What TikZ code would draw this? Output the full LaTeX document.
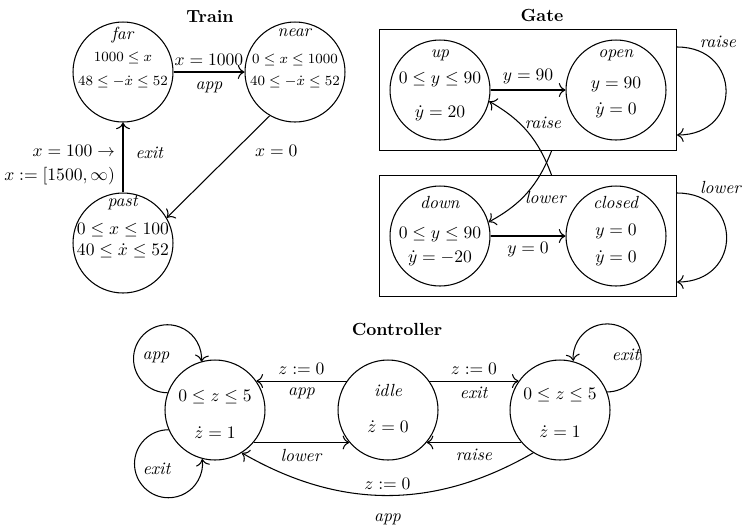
\documentclass[tikz,border=0pt]{standalone}
\usetikzlibrary{positioning,calc,fit,arrows.meta}

\begin{document}
\begin{tikzpicture}[x=0.02cm,y=0.02cm,semithick,>={To[scale=1.3]},
  state/.style={draw,circle,minimum size=2cm,inner sep=0pt},
  grp/.style={draw,rectangle,inner sep=0.2cm},
  ttl/.style={font=\bfseries},
  small/.style={font=\fontsize{8.5}{10}\selectfont}]
\useasboundingbox (0,0) rectangle (746,-525);

% Train
\node[ttl] (train) at (210,-17) {Train};
\node[state] (far) at (123,-72) {};
\node (far-n) at ($(far)+(0,37)$) {\textit{far}};
\node[small] (far-a) at ($(far)+(0,14)$) {$1000 \le x$};
\node[small] (far-b) at ($(far)+(0,-10)$) {$48 \le -\dot{x} \le 52$};
\node[state] (near) at (295,-72) {};
\node (near-n) at ($(near)+(0,39)$) {\textit{near}};
\node[small] (near-a) at ($(near)+(0,12)$) {$0 \le x \le 1000$};
\node[small] (near-b) at ($(near)+(0,-10)$) {$40 \le -\dot{x} \le 52$};
\node[state] (past) at (123,-243) {};
\node (past-n) at ($(past)+(0,40)$) {\textit{past}};
\node (past-a) at ($(past)+(0,13)$) {$0 \le x \le 100$};
\node (past-b) at ($(past)+(0,-8)$) {$40 \le \dot{x} \le 52$};
\draw[->] (far.east) -- node[above] (l-app-t) {$x = 1000$} node[below=2pt] (l-app-b) {\textit{app}} (near.west);
\draw[->] (near.240) -- node[pos=0.34,right=8pt] (l-zero) {$x = 0$} (past.30);
\draw[->] (past.north) -- node[pos=0.39,left=1pt,align=right] (l-reset) {$x = 100 \rightarrow$\\[1.7pt]$x := [1500, \infty)$}
  node[pos=0.56,right=3.5pt] (l-exit-t) {\textit{exit}} (far.south);

% Gate
\node[ttl] (gate) at (542,-15) {Gate};
\node[state] (up) at (440,-90) {};
\node[state] (open) at (616,-90) {};
\node[state] (down) at (440,-236) {};
\node[state] (closed) at (616,-236) {};
\node[grp,fit=(up)(open)] (upbox) {};
\node[grp,fit=(down)(closed)] (downbox) {};
\node (up-n) at ($(up)+(0,35)$) {\textit{up}};
\node (up-a) at ($(up)+(0,10)$) {$0 \le y \le 90$};
\node (up-b) at ($(up)+(0,-23)$) {$\dot{y} = 20$};
\node (open-n) at ($(open)+(0,35)$) {\textit{open}};
\node (open-a) at ($(open)+(0,5)$) {$y = 90$};
\node (open-b) at ($(open)+(0,-20)$) {$\dot{y} = 0$};
\node (down-n) at ($(down)+(0,34)$) {\textit{down}};
\node (down-a) at ($(down)+(0,1)$) {$0 \le y \le 90$};
\node (down-b) at ($(down)+(0,-22)$) {$\dot{y} = -20$};
\node (closed-n) at ($(closed)+(0,34)$) {\textit{closed}};
\node (closed-a) at ($(closed)+(0,4)$) {$y = 0$};
\node (closed-b) at ($(closed)+(0,-22)$) {$\dot{y} = 0$};
\draw[->] (up.east) -- node[above] (l-ninety) {$y = 90$} (open.west);
\draw[->] (down.east) -- node[below] (l-nought) {$y = 0$} (closed.west);
\draw[->] ([xshift=0.47cm]downbox.north) to[bend right=20] (up.-13);
\draw[->] ([xshift=0.47cm]upbox.south) to[bend left=20] (down.16);
\node (l-raise) at ($(upbox.south)+(15,28)$) {\textit{raise}};
\node (l-lower) at ($(downbox.north)+(18,-23)$) {\textit{lower}};
\draw[->] ($(upbox.east)+(0,43)$) to[out=0,in=0,looseness=1.9] ($(upbox.east)+(0,-45)$);
\node (l-raise-loop) at ($(upbox.east)+(41,48)$) {\textit{raise}};
\draw[->] ($(downbox.east)+(0,43)$) to[out=0,in=0,looseness=1.9] ($(downbox.east)+(0,-46)$);
\node (l-lower-loop) at ($(downbox.east)+(44,49)$) {\textit{lower}};

% Controller
\node[ttl] (ctrl) at (397,-329) {Controller};
\node[state] (cL) at (215,-410) {};
\node[state] (idle) at (388,-410) {};
\node[state] (cR) at (560,-410) {};
\node (cL-a) at ($(cL)+(0,13)$) {$0 \le z \le 5$};
\node (cL-b) at ($(cL)+(0,-23)$) {$\dot{z} = 1$};
\node (idle-n) at ($(idle)+(0,20)$) {\textit{idle}};
\node (idle-b) at ($(idle)+(0,-17)$) {$\dot{z} = 0$};
\node (cR-a) at ($(cR)+(0,15)$) {$0 \le z \le 5$};
\node (cR-b) at ($(cR)+(0,-22)$) {$\dot{z} = 1$};
\draw[->] (idle.145) -- node[above] (l-zl) {$z := 0$} node[below] (l-app-l) {\textit{app}} (cL.35);
\draw[->] (cL.-40) -- node[below] (l-lower-c) {\textit{lower}} (idle.220);
\draw[->] (idle.35) -- node[above] (l-zr) {$z := 0$} node[below] (l-exit-r) {\textit{exit}} (cR.145);
\draw[->] (cR.220) -- node[below] (l-raise-c) {\textit{raise}} (idle.-40);
\draw[->] (cR.238) to[bend left=30] node[above] (l-zb) {$z := 0$} node[below=7pt] (l-app-b2) {\textit{app}} (cL.302);
% self loops
\draw[->] (cL.160) arc[start angle=270,end angle=-5,radius=34];
\node (l-app-loop) at ($(cL)+(-59,53)$) {\textit{app}};
\draw[->] (cL.203) arc[start angle=90,end angle=368,radius=34];
\node (l-exit-loop) at ($(cL)+(-58,-59)$) {\textit{exit}};
\draw[->] (cR.21) arc[start angle=270,end angle=545,radius=34];
\node (l-exit-loop2) at ($(cR)+(66,55)$) {\textit{exit}};
\end{tikzpicture}
\end{document}
